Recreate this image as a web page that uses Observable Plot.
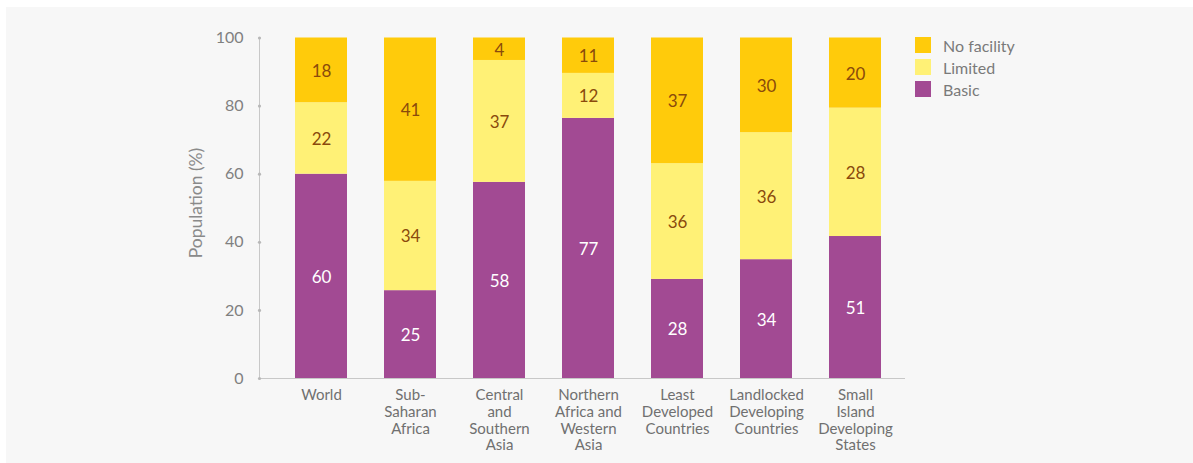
<!DOCTYPE html>
<html>
<head>
<meta charset="utf-8">
<script src="https://cdn.jsdelivr.net/npm/d3@7"></script>
<script src="https://cdn.jsdelivr.net/npm/@observablehq/plot@0.6"></script>
<style>
  html, body { margin: 0; padding: 0; background: #ffffff; }
  #wrap { position: relative; width: 1193px; height: 463px; overflow: hidden; font-family: Lato, "Open Sans", sans-serif; }
  #panel { position: absolute; left: 6px; top: 7px; right: 0; bottom: 0; background: #f7f7f7; }
  #chart { position: absolute; left: 0; top: 0; }
  #ylabel { position: absolute; left: 195px; top: 203px; transform: translate(-50%, -50%) rotate(-90deg); white-space: nowrap; font-size: 17.5px; color: #8a8a8a; }
  #legend { position: absolute; left: 915px; top: 37px; }
  .item { display: flex; align-items: center; height: 16px; margin-bottom: 6px; font-size: 16px; color: #7a7a7a; }
  .sw { width: 16px; height: 16px; margin-right: 12px; }
</style>
</head>
<body>
<div id="wrap">
  <div id="panel"></div>
  <div id="chart"></div>
  <div id="ylabel"></div>
  <div id="legend"></div>
</div>
<script>
const categories = ["World", "Sub-\nSaharan\nAfrica", "Central\nand\nSouthern\nAsia", "Northern\nAfrica and\nWestern\nAsia", "Least\nDeveloped\nCountries", "Landlocked\nDeveloping\nCountries", "Small\nIsland\nDeveloping\nStates"];
const seriesNames = ["Basic", "Limited", "No facility"];
const seriesColors = ["#a24a93", "#fff176", "#ffcb0b"];
const yTitle = "Population (%)";
// segment heights as drawn in the picture (%)
const basicHeight   = [60, 25.8, 57.6, 76.4, 29.1, 34.9, 41.7];
const limitedHeight = [21, 32.1, 35.8, 13.2, 34.0, 37.3, 37.7];
const noneHeight    = [19, 42.1, 6.6, 10.4, 36.9, 27.8, 20.6];
// value labels printed on the segments
const basicLabel   = [60, 25, 58, 77, 28, 34, 51];
const limitedLabel = [22, 34, 37, 12, 36, 36, 28];
const noneLabel    = [18, 41, 4, 11, 37, 30, 20];
const yTicks = [0, 20, 40, 60, 80, 100];

const heights = [basicHeight, limitedHeight, noneHeight];
const labels = [basicLabel, limitedLabel, noneLabel];
const data = [];
categories.forEach((c, i) => {
  seriesNames.forEach((s, k) => {
    data.push({cat: c, series: s, h: heights[k][i], label: labels[k][i]});
  });
});

const plot = Plot.plot({
  width: 1193,
  height: 463,
  marginLeft: 259,
  marginRight: 288,
  marginTop: 37.5,
  marginBottom: 85,
  style: {background: "transparent", fontFamily: "Lato, 'Open Sans', sans-serif"},
  x: {domain: categories, range: [276.5, 899.5], paddingInner: 0.416, paddingOuter: 0.208},
  y: {domain: [0, 100]},
  color: {domain: seriesNames, range: seriesColors},
  marks: [
    Plot.barY(data, Plot.stackY({x: "cat", y: "h", fill: "series", order: null})),
    Plot.text(data, Plot.stackY({
      x: "cat", y: "h", text: "label", order: null, dy: 1,
      fill: {value: d => d.series === "Basic" ? "#ffffff" : "#8a4a0c", scale: null},
      fontSize: 17
    })),
    Plot.frame({anchor: "left", stroke: "#c8c8c8"}),
    Plot.ruleY([0], {stroke: "#c8c8c8"}),
    Plot.dot(yTicks, {y: d => d, frameAnchor: "left", r: 1.6, fill: "#b8b8b8", stroke: null}),
    Plot.axisY({ticks: yTicks, tickSize: 0, tickPadding: 16, fontSize: 16, color: "#808080", label: null}),
    Plot.axisX({tickSize: 0, tickPadding: 10, fontSize: 15, lineHeight: 1.11, color: "#707070", label: null})
  ]
});
document.getElementById("chart").appendChild(plot);
document.getElementById("ylabel").textContent = yTitle;

const legend = document.getElementById("legend");
[2, 1, 0].forEach(k => {
  const item = document.createElement("div");
  item.className = "item";
  const sw = document.createElement("span");
  sw.className = "sw";
  sw.style.background = seriesColors[k];
  const t = document.createElement("span");
  t.textContent = seriesNames[k];
  item.appendChild(sw);
  item.appendChild(t);
  legend.appendChild(item);
});
</script>
</body>
</html>
